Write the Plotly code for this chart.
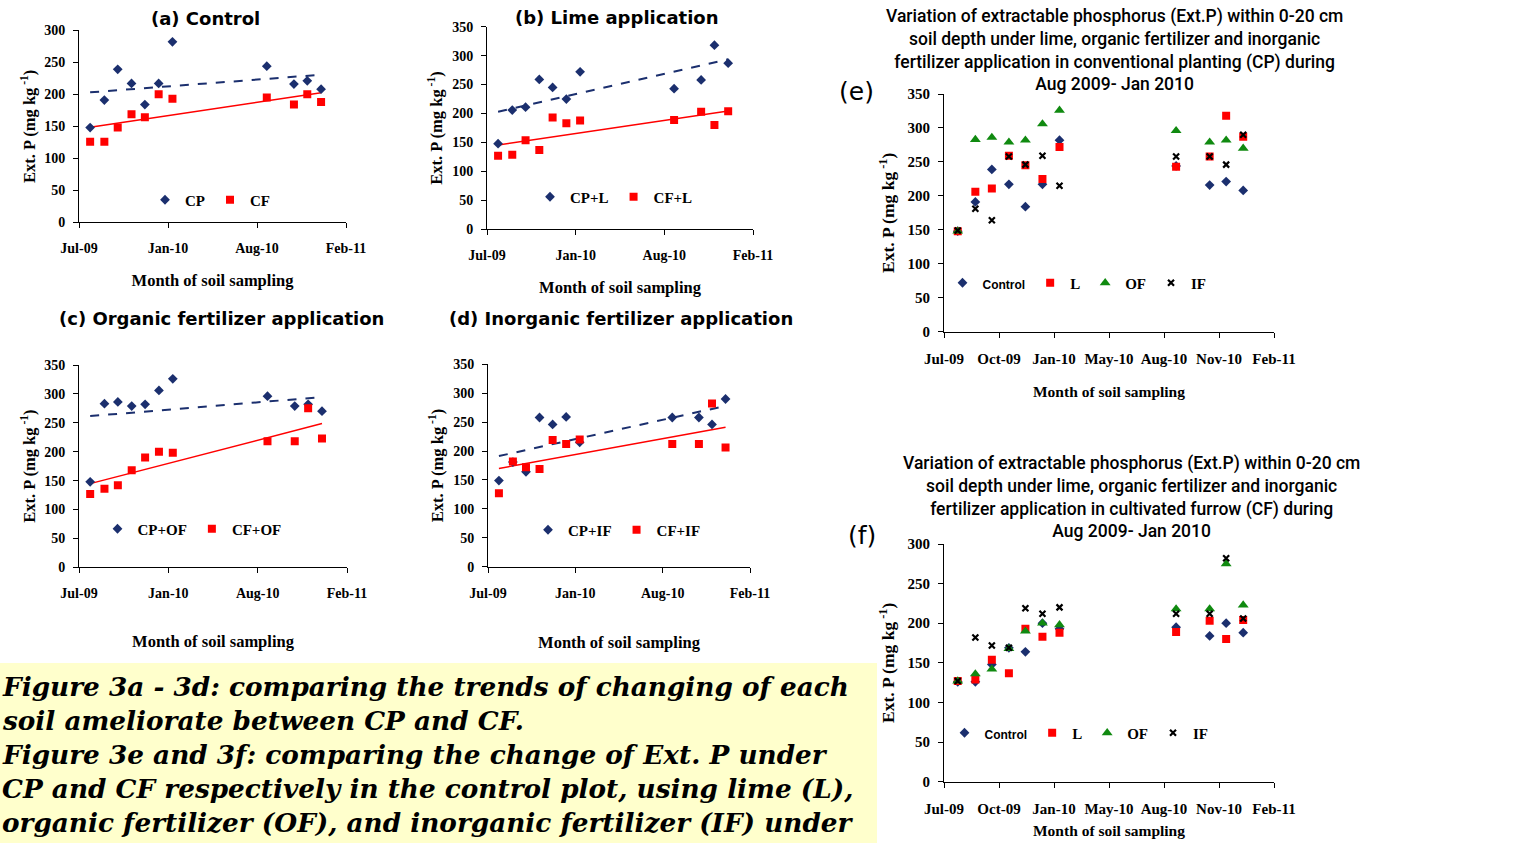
import numpy as np
import pandas as pd
import plotly.graph_objects as go

W, H = 1522, 843

# ---------------- data ----------------
sample_dates = ["2009-07-31", "2009-09-01", "2009-10-01", "2009-11-01", "2009-12-01",
                "2010-01-01", "2010-02-01", "2010-09-01", "2010-11-01", "2010-12-01",
                "2011-01-01"]

# Conventional planting (CP)
cp_control = [148, 191, 239, 217, 184, 217, 282, 244, 216, 221, 208]
cp_lime = [148, 206, 211, 259, 245, 225, 272, 243, 258, 318, 287]
cp_of = [148, 283, 286, 279, 282, 306, 326, 296, 279, 282, 270]
cp_if = [149, 181, 164, 258, 246, 259, 215, 258, 258, 246, 290]

# Cultivated furrow (CF)
cf_control = [126, 126, 148, 169, 164, 200, 193, 195, 184, 200, 188]
cf_lime = [127, 129, 154, 137, 193, 183, 188, 189, 203, 180, 204]
cf_of = [127, 136, 142, 168, 190, 200, 198, 218, 218, 275, 223]
cf_if = [127, 182, 172, 169, 219, 212, 220, 212, 212, 282, 206]

x_range = ["2009-07-06", "2011-02-26"]
ticks_ad = ["2009-07-06", "2010-01-22", "2010-08-10", "2011-02-26"]
ticks_ef = ["2009-07-06", "2009-10-14", "2010-01-22", "2010-05-02",
            "2010-08-10", "2010-11-18", "2011-02-26"]

panel_titles = ["(a) Control", "(b) Lime application",
                "(c) Organic fertilizer application", "(d) Inorganic fertilizer application"]
title_e = ("Variation of extractable phosphorus (Ext.P) within 0-20 cm<br>"
           "soil depth under lime, organic fertilizer and inorganic<br>"
           "fertilizer application in conventional planting (CP) during<br>"
           "Aug 2009- Jan 2010")
title_f = ("Variation of extractable phosphorus (Ext.P) within 0-20 cm<br>"
           "soil depth under lime, organic fertilizer and inorganic<br>"
           "fertilizer application in cultivated furrow (CF) during<br>"
           "Aug 2009- Jan 2010")
caption_lines = [
    "Figure 3a - 3d: comparing the trends of changing of each",
    "soil ameliorate between CP and CF.",
    "Figure 3e and 3f: comparing the change of Ext. P under",
    "CP and CF respectively in the control plot, using lime (L),",
    "organic fertilizer (OF), and inorganic fertilizer (IF) under",
]

# ---------------- styling ----------------
NAVY = "#1B2F6E"
RED = "#FF0000"
GREEN = "#108A10"
SERIF = "Liberation Serif"
SANS = "DejaVu Sans"
TITLE_SANS = "Roboto"

dates = pd.to_datetime(sample_dates)
days = (dates - dates[0]).days.values.astype(float)


def fx(px):
    return px / W


def fy(py):
    return 1 - py / H


def trend(vals):
    k, b = np.polyfit(days, np.asarray(vals, float), 1)
    return [dates[0], dates[-1]], [b, k * days[-1] + b]


fig = go.Figure()

# panel geometry (pixel boxes)
panels = [
    dict(x0=79, x1=346, y0=30.3, y1=222.3, ymax=300, ticks=ticks_ad, fs=14, xt=16.5, yt=16.5),
    dict(x0=487, x1=753, y0=26.7, y1=229.3, ymax=350, ticks=ticks_ad, fs=14, xt=16.5, yt=16.5),
    dict(x0=79, x1=347, y0=365, y1=567.3, ymax=350, ticks=ticks_ad, fs=14, xt=16.5, yt=16.5),
    dict(x0=488, x1=750, y0=364.3, y1=566.7, ymax=350, ticks=ticks_ad, fs=14, xt=16.5, yt=16.5),
    dict(x0=944, x1=1274, y0=94, y1=331.7, ymax=350, ticks=ticks_ef, fs=15, xt=15.5, yt=17.5),
    dict(x0=944, x1=1274, y0=544, y1=781.7, ymax=300, ticks=ticks_ef, fs=15, xt=15.5, yt=17.5),
]
xtitle_standoff = [19, 19, 35, 36, 20, 9]
ytitle_standoff = [4, 5, 4, 5, 8, 8]

layout_axes = {}
for i, p in enumerate(panels):
    n = i + 1
    xs = "" if n == 1 else str(n)
    tf = dict(family=SERIF, size=p["fs"], color="black", weight="bold")
    layout_axes["xaxis" + xs] = dict(
        domain=[fx(p["x0"]), fx(p["x1"])], anchor="y" + xs, type="date",
        range=x_range, tickvals=p["ticks"], tickformat="%b-%y", automargin=False,
        showline=True, linecolor="black", linewidth=1, ticks="outside",
        ticklen=5, tickcolor="black", showgrid=False, zeroline=False,
        tickfont=tf, ticklabelstandoff=8,
        title=dict(text="Month of soil sampling",
                   font=dict(family=SERIF, size=p["xt"], color="black", weight="bold"),
                   standoff=xtitle_standoff[i]),
    )
    layout_axes["yaxis" + xs] = dict(
        domain=[fy(p["y1"]), fy(p["y0"])], anchor="x" + xs, automargin=False,
        range=[0, p["ymax"]], dtick=50, showline=True, linecolor="black", linewidth=1,
        ticks="outside", ticklen=5, tickcolor="black", showgrid=False, zeroline=False,
        tickfont=tf, ticklabelstandoff=5,
        title=dict(text="Ext. P (mg kg<sup> -1</sup>)",
                   font=dict(family=SERIF, size=p["yt"], color="black", weight="bold"),
                   standoff=ytitle_standoff[i]),
    )

diamond = dict(symbol="diamond", size=7.5, color=NAVY)
square = dict(symbol="square", size=8, color=RED)
tri = dict(symbol="triangle-up", size=9.5, color=GREEN)
xmark = dict(symbol="x-thin", size=6, color="black", line=dict(width=2.2, color="black"))

pairs = [
    (cp_control, cf_control, "CP", "CF"),
    (cp_lime, cf_lime, "CP+L", "CF+L"),
    (cp_of, cf_of, "CP+OF", "CF+OF"),
    (cp_if, cf_if, "CP+IF", "CF+IF"),
]
for i, (cp, cf, ncp, ncf) in enumerate(pairs):
    n = i + 1
    xs = "" if n == 1 else str(n)
    lg = "legend" if n == 1 else "legend" + str(n)
    tx, ty = trend(cp)
    fig.add_trace(go.Scatter(x=tx, y=ty, mode="lines", line=dict(color=NAVY, width=2, dash="dash"),
                             showlegend=False, xaxis="x" + xs, yaxis="y" + xs, hoverinfo="skip"))
    tx, ty = trend(cf)
    fig.add_trace(go.Scatter(x=tx, y=ty, mode="lines", line=dict(color=RED, width=1.5),
                             showlegend=False, xaxis="x" + xs, yaxis="y" + xs, hoverinfo="skip"))
    fig.add_trace(go.Scatter(x=sample_dates, y=cp, mode="markers", name=ncp, marker=diamond,
                             xaxis="x" + xs, yaxis="y" + xs, legend=lg))
    fig.add_trace(go.Scatter(x=sample_dates, y=cf, mode="markers", name=ncf, marker=square,
                             xaxis="x" + xs, yaxis="y" + xs, legend=lg))

ctrl_name = '<span style="font-family:Liberation Sans;font-size:12px">Control</span>'
for n, vals in ((5, (cp_control, cp_lime, cp_of, cp_if)), (6, (cf_control, cf_lime, cf_of, cf_if))):
    xs = str(n)
    lg = "legend" + str(n)
    for name, v, mk in zip([ctrl_name, "L", "OF", "IF"], vals, [diamond, square, tri, xmark]):
        fig.add_trace(go.Scatter(x=sample_dates, y=v, mode="markers", name=name, marker=mk,
                                 xaxis="x" + xs, yaxis="y" + xs, legend=lg))

legend_pos = [(210, 200), (614, 197), (192, 529), (617, 530), (1077, 283), (1079, 733)]
legends = {}
for i, (lx, ly) in enumerate(legend_pos):
    key = "legend" if i == 0 else "legend" + str(i + 1)
    legends[key] = dict(orientation="h", x=fx(lx), y=fy(ly), xanchor="center", yanchor="middle",
                        bgcolor="rgba(0,0,0,0)", borderwidth=0, itemwidth=30,
                        font=dict(family=SERIF, size=15, color="black", weight="bold"),
                        itemclick=False, itemdoubleclick=False)

annotations = []
title_pos = [(205, 18), (617, 17), (221, 318), (621, 318)]
for t, (tx, ty) in zip(panel_titles, title_pos):
    annotations.append(dict(text=t, x=fx(tx), y=fy(ty), xref="paper", yref="paper",
                            xanchor="center", yanchor="middle", showarrow=False,
                            font=dict(family=SANS, size=18, color="black", weight="bold")))
annotations.append(dict(text=title_e, x=fx(1114), y=fy(50), xref="paper", yref="paper",
                        xanchor="center", yanchor="middle", showarrow=False, align="center",
                        font=dict(family=TITLE_SANS, size=17.5, color="black", weight=500)))
annotations.append(dict(text=title_f, x=fx(1131), y=fy(496.5), xref="paper", yref="paper",
                        xanchor="center", yanchor="middle", showarrow=False, align="center",
                        font=dict(family=TITLE_SANS, size=17.5, color="black", weight=500)))
annotations.append(dict(text="(e)", x=fx(856), y=fy(92), xref="paper", yref="paper",
                        xanchor="center", yanchor="middle", showarrow=False,
                        font=dict(family=SANS, size=25, color="black")))
annotations.append(dict(text="(f)", x=fx(862), y=fy(535), xref="paper", yref="paper",
                        xanchor="center", yanchor="middle", showarrow=False,
                        font=dict(family=SANS, size=25, color="black")))
for k, line in enumerate(caption_lines):
    annotations.append(dict(text="<b><i>" + line + "</i></b>", x=0, y=fy(686 + 34 * k),
                            xref="paper", yref="paper", xanchor="left", yanchor="middle",
                            showarrow=False, align="left",
                            font=dict(family="DejaVu Serif", size=26.3, color="black")))

shapes = [dict(type="rect", xref="paper", yref="paper", x0=0, x1=fx(877), y0=0, y1=fy(663),
               fillcolor="#FFFFCC", line=dict(width=0), layer="below")]

fig.update_layout(
    width=W, height=H, margin=dict(l=0, r=0, t=0, b=0, autoexpand=False),
    paper_bgcolor="white", plot_bgcolor="rgba(0,0,0,0)",
    annotations=annotations, shapes=shapes, **layout_axes, **legends,
)

fig.write_html("out.html", config={"displayModeBar": False},
               post_script="document.body.style.margin='0';")
